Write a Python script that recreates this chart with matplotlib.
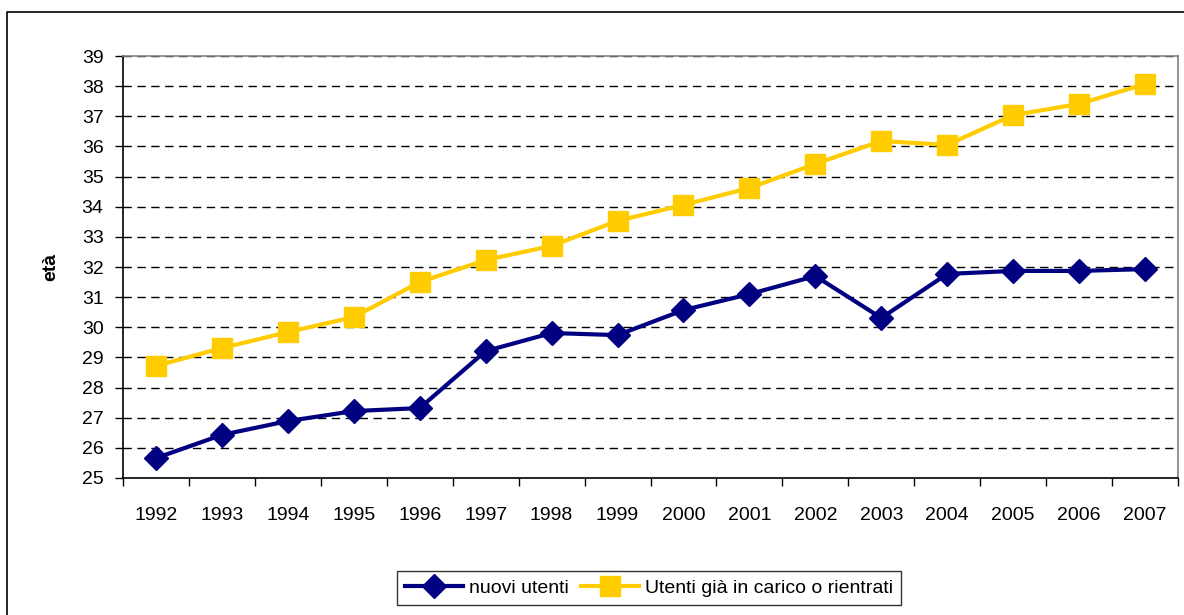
import matplotlib
matplotlib.use('Agg')
import matplotlib.pyplot as plt
import numpy as np
from matplotlib.lines import Line2D
from matplotlib import font_manager

years = ['1992', '1993', '1994', '1995', '1996', '1997', '1998', '1999',
         '2000', '2001', '2002', '2003', '2004', '2005', '2006', '2007']
nuovi = [25.66, 26.43, 26.89, 27.22, 27.32, 29.21, 29.81, 29.74,
         30.57, 31.10, 31.70, 30.31, 31.77, 31.87, 31.87, 31.93]
gia_in_carico = [28.72, 29.31, 29.84, 30.34, 31.50, 32.23, 32.70, 33.53,
                 34.06, 34.62, 35.42, 36.18, 36.05, 37.04, 37.41, 38.07]

names = set(f.name for f in font_manager.fontManager.ttflist)
fam = [f for f in ['Liberation Sans Narrow', 'Liberation Sans', 'DejaVu Sans'] if f in names]
plt.rcParams['font.family'] = fam

fig = plt.figure(figsize=(11.84, 6.15), dpi=100)
ax = fig.add_axes([123/1184, 1-478/615, (1178-123)/1184, (478-56)/615])

x = np.arange(len(years))
ax.plot(x, nuovi, color='#000080', lw=3, marker='D', ms=12,
        label='nuovi utenti', zorder=3)
ax.plot(x, gia_in_carico, color='#FFCC00', lw=3, marker='s', ms=14,
        label='Utenti già in carico o rientrati', zorder=3)

ax.set_xlim(-0.5, len(years) - 0.5)
ax.set_ylim(25, 39)
ax.set_yticks(range(25, 40))
ax.set_xticks(x)
ax.set_xticklabels(years)
ax.set_xticks(np.arange(-0.5, len(years)), minor=True)
ax.tick_params(axis='x', which='major', length=0, pad=21, labelsize=14)
ax.tick_params(axis='x', which='minor', length=6, width=1, direction='out')
ax.tick_params(axis='y', length=6, width=1, direction='out', pad=8, labelsize=14)

for v in range(26, 40):
    ax.axhline(v, color='black', lw=1, ls=(0, (6, 4)), zorder=1)

ax.spines['left'].set_color('black')
ax.spines['bottom'].set_color('black')
ax.spines['top'].set_color('#808080')
ax.spines['right'].set_color('#808080')
for s in ax.spines.values():
    s.set_linewidth(1.2)

ax.set_ylabel('età', fontsize=14, fontweight='bold', labelpad=16)

leg = fig.legend(loc='center', bbox_to_anchor=(649/1184, 1-588/615), ncol=2,
                 fontsize=14, frameon=True, fancybox=False, edgecolor='black',
                 handlelength=3, columnspacing=0.6, handletextpad=0.3,
                 borderpad=0.4)
leg.get_frame().set_linewidth(1)

# outer chart frame (only left and top edges visible)
fig.add_artist(Line2D([7/1184, 7/1184, 1.01], [-0.01, 1-12/615, 1-12/615],
                      transform=fig.transFigure, color='black', lw=1.2))

fig.savefig('out.png', dpi=100)
